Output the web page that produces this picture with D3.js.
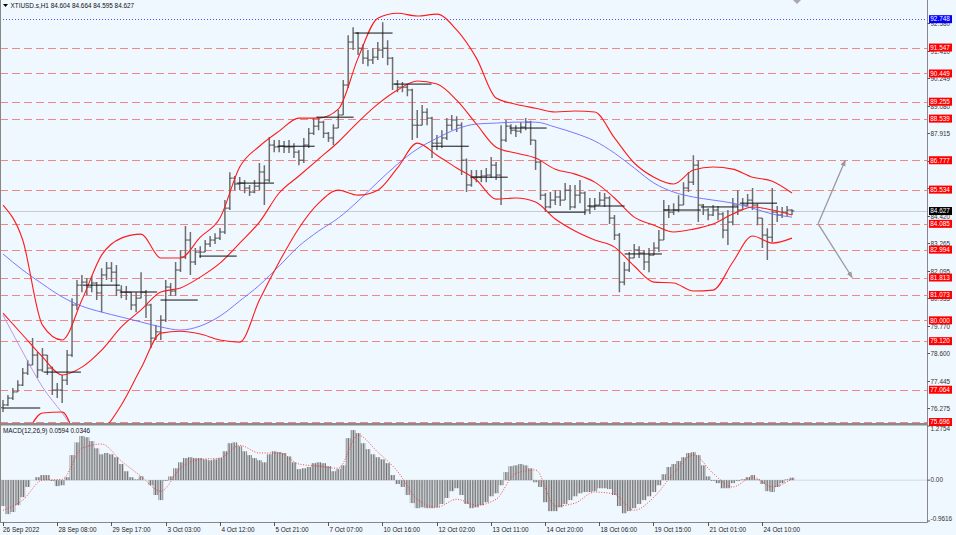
<!DOCTYPE html>
<html>
<head>
<meta charset="utf-8">
<script src="https://cdn.jsdelivr.net/npm/d3@7"></script>
<style>
  html, body { margin: 0; padding: 0; background: #f0f8ff; }
  svg { display: block; font-family: "Liberation Sans", Arial, sans-serif; }
</style>
</head>
<body>
<svg id="chart" width="956" height="535"></svg>
<script>
// price bars, one per ~3 hourly bars
var barHigh = [
  76.63, 76.84, 77.14, 77.47, 77.98, 78.32, 79.25, 78.66, 78.83, 78.53,
  78.05, 77.35, 77.69, 78.74, 80.94, 81.71, 81.92, 81.79, 81.88, 81.62,
  82.21, 82.47, 82.47, 82.34, 81.49, 81.45, 81.19, 81.19, 82.04, 81.28,
  80.70, 79.80, 80.22, 81.71, 81.58, 82.47, 82.98, 83.99, 83.74, 83.06,
  83.14, 83.40, 83.57, 83.69, 83.91, 85.09, 86.27, 86.11, 86.07, 85.94,
  85.73, 85.94, 86.66, 86.57, 87.76, 87.63, 87.63, 87.59, 87.63, 87.50,
  87.21, 87.72, 88.14, 88.56, 88.56, 88.45, 87.97, 88.30, 88.90, 90.17,
  92.07, 92.41, 92.20, 91.69, 91.44, 91.52, 91.78, 92.62, 91.86, 91.15,
  90.17, 90.09, 90.00, 89.80, 88.90, 89.11, 88.98, 88.62, 87.84, 88.05,
  88.56, 88.69, 88.64, 88.39, 86.85, 86.36, 86.36, 86.36, 86.45, 86.91,
  86.70, 88.26, 88.48, 88.30, 88.26, 88.39, 88.56, 88.45, 87.63, 86.78,
  85.39, 85.43, 85.51, 85.51, 85.81, 85.73, 85.73, 85.94, 85.45, 85.18,
  85.18, 85.43, 85.39, 85.25, 84.46, 83.70, 82.47, 82.89, 83.23, 83.14,
  82.98, 83.06, 83.31, 83.82, 85.09, 84.88, 84.96, 85.30, 85.85, 86.28,
  86.99, 86.78, 84.92, 84.75, 84.88, 84.84, 84.58, 84.67, 85.18, 85.51,
  85.18, 85.35, 85.60, 84.96, 84.33, 83.90, 85.60, 84.84, 84.80, 84.84,
  84.70
];
var barLow = [
  76.12, 76.37, 76.63, 76.97, 77.22, 77.69, 78.11, 77.56, 77.81, 77.69,
  76.84, 76.71, 76.50, 77.26, 78.45, 80.44, 81.19, 81.07, 81.19, 80.86,
  80.34, 81.71, 81.62, 81.03, 80.94, 80.86, 80.44, 80.34, 80.94, 80.10,
  78.83, 79.17, 79.17, 79.93, 81.03, 81.03, 82.05, 82.60, 81.92, 82.34,
  82.64, 82.89, 83.10, 83.23, 83.40, 83.65, 84.67, 85.51, 85.51, 85.38,
  85.26, 85.38, 85.51, 84.88, 85.85, 87.12, 87.12, 87.08, 87.08, 86.87,
  86.57, 86.66, 87.30, 87.84, 88.05, 87.72, 87.55, 87.42, 88.14, 88.69,
  89.83, 91.44, 91.23, 90.85, 90.76, 90.85, 91.02, 91.10, 90.80, 89.75,
  89.66, 89.66, 89.49, 87.63, 87.72, 88.26, 88.26, 86.87, 87.21, 87.30,
  87.63, 88.05, 87.97, 86.15, 85.43, 85.65, 85.85, 85.85, 85.85, 86.02,
  85.94, 84.88, 87.55, 87.88, 87.76, 87.92, 88.05, 87.42, 86.36, 85.09,
  84.59, 84.75, 84.88, 84.84, 85.09, 84.67, 84.75, 84.96, 84.46, 84.50,
  84.67, 84.88, 84.80, 84.08, 83.40, 81.19, 81.49, 82.05, 82.64, 82.64,
  82.13, 82.04, 82.76, 82.89, 83.40, 84.33, 84.46, 84.58, 84.88, 85.43,
  85.73, 84.16, 84.46, 84.24, 84.42, 84.24, 83.48, 83.19, 84.03, 84.46,
  84.67, 84.84, 84.67, 84.03, 83.06, 82.55, 83.31, 84.16, 84.33, 84.42,
  84.46
];
var barClose = [
  76.42, 76.71, 76.97, 77.26, 77.77, 78.11, 78.53, 77.90, 78.53, 77.98,
  77.05, 77.05, 77.47, 78.53, 80.65, 81.49, 81.62, 81.41, 81.58, 81.16,
  81.92, 82.21, 82.04, 81.28, 81.19, 81.19, 80.65, 80.94, 81.19, 80.65,
  79.25, 79.51, 80.01, 81.41, 81.24, 82.13, 82.68, 83.40, 82.47, 82.89,
  82.89, 83.23, 83.40, 83.48, 83.74, 84.75, 86.02, 85.77, 85.81, 85.60,
  85.43, 85.68, 86.28, 85.94, 87.42, 87.34, 87.38, 87.34, 87.34, 87.12,
  86.78, 87.42, 87.92, 88.22, 88.39, 87.92, 87.72, 88.14, 88.69, 89.96,
  91.78, 92.16, 91.52, 91.10, 91.02, 91.14, 91.44, 91.52, 91.10, 90.00,
  89.87, 89.87, 89.75, 88.26, 88.26, 88.81, 88.56, 87.50, 87.50, 87.72,
  88.26, 88.48, 88.26, 86.78, 85.73, 86.07, 86.07, 86.11, 86.15, 86.57,
  86.15, 87.63, 88.22, 88.05, 88.01, 88.18, 88.39, 87.63, 86.70, 85.30,
  84.80, 85.09, 85.22, 85.09, 85.51, 84.80, 85.30, 85.39, 84.67, 84.80,
  84.88, 85.09, 85.18, 84.33, 83.61, 81.62, 82.13, 82.64, 82.98, 82.85,
  82.47, 82.76, 83.06, 83.40, 84.67, 84.58, 84.67, 84.88, 85.60, 85.85,
  86.57, 84.88, 84.67, 84.46, 84.67, 84.50, 83.82, 84.16, 84.88, 84.67,
  84.88, 85.09, 84.88, 84.33, 83.61, 83.52, 84.58, 84.46, 84.58, 84.67,
  84.63
];
var firstOpen = 76.30;

// indicator lines, one value every 4 bars
var bandStep = 4;
var bbUpper = [
  84.88, 83.40, 79.80, 79.17, 80.86, 82.76, 83.48, 83.65, 82.64, 82.64,
  83.52, 84.33, 86.49, 87.37, 88.01, 88.56, 88.56, 88.94, 91.10, 92.79,
  93.00, 92.88, 92.96, 92.29, 91.10, 89.41, 89.15, 88.98, 88.82, 88.86,
  88.82, 87.72, 86.66, 86.06, 85.77, 86.36, 86.49, 86.40, 86.06, 85.89,
  85.39
];
var bbMiddle = [
  80.31, 79.38, 78.45, 77.69, 78.02, 78.74, 79.72, 80.44, 81.20, 81.37,
  81.83, 82.42, 83.27, 84.16, 85.39, 86.11, 86.83, 87.55, 88.39, 89.15,
  89.75, 90.13, 90.00, 89.32, 88.31, 87.33, 87.08, 86.87, 86.40, 86.19,
  85.85, 85.18, 84.37, 84.03, 83.74, 83.86, 84.08, 84.50, 84.80, 84.67,
  84.46
];
var bbLower = [
  73.66, 74.93, 76.08, 76.12, 74.72, 75.27, 76.42, 77.98, 79.46, 79.54,
  79.42, 79.17, 79.08, 80.86, 82.47, 83.90, 84.96, 85.51, 85.30, 85.51,
  86.45, 87.50, 86.99, 86.45, 85.94, 85.13, 85.18, 85.01, 84.29, 83.78,
  83.40, 83.10, 82.30, 81.62, 81.58, 81.24, 81.28, 82.47, 83.57, 83.27,
  83.48
];
var maSlow = [
  82.81, 82.13, 81.54, 80.99, 80.60, 80.35, 80.14, 79.93, 79.72, 79.59,
  79.76, 80.18, 80.82, 81.49, 82.30, 83.14, 83.78, 84.33, 85.05, 85.85,
  86.61, 87.25, 87.71, 88.10, 88.31, 88.35, 88.39, 88.39, 88.18, 87.92,
  87.59, 87.08, 86.45, 85.81, 85.43, 85.22, 85.09, 84.96, 84.75, 84.50,
  84.37
];
var maLong = [80.22, 78.66, 77.18, 76.08, 74.93];

// daily open lines (start in hourly bars, 22 bars long)
var dayStartHour = [0, 24, 47, 69, 93, 116, 138, 162, 185, 208, 231, 253, 276, 299, 322, 345, 367, 390, 412, 435];
var dayLevel = [76.29, 77.81, 81.49, 81.20, 80.86, 82.72, 85.81, 87.37, 88.60, 92.16, 90.00, 87.37, 86.06, 88.14, 84.58, 84.84, 82.81, 84.67, 84.80, 84.96];
var dayLength = 22;

// horizontal levels
var levelPrices = [91.547, 90.449, 89.255, 88.539, 86.777, 85.534, 84.085, 82.994, 81.813, 81.073, 80.000, 79.120, 77.064, 75.696];
var highLine = 92.748;
var bidPrice = 84.627;
var priceTicks = [76.275, 77.445, 78.600, 79.770, 80.935, 82.095, 83.265, 84.420, 85.590, 86.750, 87.915, 89.080, 90.249, 91.410, 92.580];

// scenario arrows: [startBar, startPrice, endBar, endPrice]
var arrows = [[165.3, 84.085, 170.8, 86.777], [165.3, 84.085, 172.2, 81.813]];

// MACD(12,26,9)
var macdHist = [
  -0.61, -0.80, -0.75, -0.59, -0.40, -0.16, 0.00, 0.07, 0.12, 0.12,
  -0.02, -0.14, -0.12, 0.07, 0.59, 0.89, 1.04, 1.01, 0.92, 0.75,
  0.61, 0.64, 0.61, 0.54, 0.38, 0.21, 0.07, 0.02, 0.09, 0.00,
  -0.12, -0.35, -0.47, -0.02, 0.09, 0.28, 0.42, 0.52, 0.54, 0.52,
  0.52, 0.49, 0.47, 0.49, 0.52, 0.68, 0.87, 0.89, 0.80, 0.68,
  0.59, 0.52, 0.47, 0.42, 0.61, 0.68, 0.66, 0.64, 0.56, 0.42,
  0.26, 0.28, 0.31, 0.40, 0.42, 0.40, 0.33, 0.21, 0.26, 0.35,
  0.99, 1.18, 1.11, 0.87, 0.73, 0.61, 0.54, 0.49, 0.40, 0.12,
  -0.09, -0.16, -0.35, -0.54, -0.66, -0.64, -0.66, -0.66, -0.64, -0.56,
  -0.42, -0.26, -0.19, -0.35, -0.56, -0.66, -0.64, -0.59, -0.52, -0.38,
  -0.31, -0.12, 0.19, 0.33, 0.35, 0.38, 0.35, 0.28, -0.05, -0.16,
  -0.52, -0.73, -0.73, -0.64, -0.56, -0.47, -0.38, -0.31, -0.28, -0.28,
  -0.26, -0.19, -0.19, -0.21, -0.35, -0.61, -0.78, -0.73, -0.66, -0.56,
  -0.47, -0.38, -0.28, -0.12, 0.14, 0.31, 0.38, 0.45, 0.54, 0.64,
  0.66, 0.59, 0.35, 0.09, -0.02, -0.07, -0.19, -0.19, -0.07, -0.02,
  0.02, 0.07, 0.12, 0.02, -0.09, -0.26, -0.28, -0.16, -0.07, 0.02,
  0.06
];
var macdSignal = [
  -0.71, -0.47, 0.00, 0.02, 0.75, 0.85, 0.45, 0.09, -0.26, 0.28,
  0.49, 0.52, 0.82, 0.64, 0.64, 0.38, 0.33, 0.28, 1.06, 0.66,
  0.21, -0.45, -0.64, -0.45, -0.59, -0.45, 0.16, 0.24, -0.61, -0.54,
  -0.28, -0.33, -0.71, -0.40, 0.16, 0.59, 0.16, -0.16, 0.07, -0.16,
  0.03
];
var macdTicks = [1.2754, 0.00, -0.9616];
var macdTickText = ["1.2754", "0.00", "-0.9616"];

// time axis
var timeLabels = ["26 Sep 2022", "28 Sep 08:00", "29 Sep 17:00", "3 Oct 03:00", "4 Oct 12:00",
  "5 Oct 21:00", "7 Oct 07:00", "10 Oct 16:00", "12 Oct 02:00", "13 Oct 11:00",
  "14 Oct 20:00", "18 Oct 06:00", "19 Oct 15:00", "21 Oct 01:00", "24 Oct 10:00"];
var labelEvery = 32;

var headerText = "XTIUSD.s,H1  84.604 84.664 84.595 84.627";
var macdText = "MACD(12,26,9) 0.0594 0.0346";

var FS = 6.4;
var axisX = 927.5;

var svg = d3.select("#chart");
var xg = d3.scaleLinear().domain([0, 160]).range([3, 792]);
var xt = d3.scaleLinear().domain([0, 467]).range([3, 794]);
var y = d3.scaleLinear().domain([75.613, 93.39]).range([424, 4]);
var ym = d3.scaleLinear().domain([-0.9616, 1.2754]).range([521, 426]);

svg.append("rect").attr("width", 956).attr("height", 535).attr("fill", "#f0f8ff");

var defs = svg.append("defs");
defs.append("clipPath").attr("id", "clipMain")
  .append("rect").attr("x", 1).attr("y", 0).attr("width", 926).attr("height", 423);
defs.append("clipPath").attr("id", "clipMacd")
  .append("rect").attr("x", 1).attr("y", 426).attr("width", 926).attr("height", 96);

    // hatch used for the MACD histogram
var hatch = defs.append("pattern").attr("id", "hatch")
  .attr("patternUnits", "userSpaceOnUse")
  .attr("width", 1.65).attr("height", 4);
hatch.append("rect").attr("width", 1).attr("height", 4).attr("fill", "#707070");

defs.append("marker").attr("id", "arrowHead")
  .attr("viewBox", "0 0 10 10").attr("refX", 9).attr("refY", 5)
  .attr("markerWidth", 5).attr("markerHeight", 5).attr("orient", "auto")
  .append("path").attr("d", "M0,1 L10,5 L0,9 z").attr("fill", "#9a9a9a");

var main = svg.append("g").attr("clip-path", "url(#clipMain)");

    // dashed levels
main.selectAll("line.level").data(levelPrices).enter().append("line")
  .attr("class", "level")
  .attr("x1", 0).attr("x2", axisX)
  .attr("y1", function(d) { return Math.round(y(d)) + 0.5; })
  .attr("y2", function(d) { return Math.round(y(d)) + 0.5; })
  .attr("stroke", "#f38585").attr("stroke-width", 1)
  .attr("stroke-dasharray", "8,4");

main.append("line")
  .attr("x1", 0).attr("x2", axisX)
  .attr("y1", Math.round(y(highLine)) + 0.5).attr("y2", Math.round(y(highLine)) + 0.5)
  .attr("stroke", "#5050ff").attr("stroke-dasharray", "1,2");

main.append("line")
  .attr("x1", 0).attr("x2", axisX)
  .attr("y1", Math.round(y(bidPrice)) + 0.5).attr("y2", Math.round(y(bidPrice)) + 0.5)
  .attr("stroke", "#c8ccd0");

    // price bars: range lines in grey, open/close ticks darker
var rangePath = "", tickPath = "";
barClose.forEach(function(c, i) {
  var x = xg(i);
  var o = i === 0 ? firstOpen : barClose[i - 1];
  rangePath += "M" + x + "," + y(barHigh[i]) + "V" + y(barLow[i]);
  tickPath += "M" + (x - 2.4) + "," + y(o) + "H" + x;
  tickPath += "M" + x + "," + y(c) + "H" + (x + 2.4);
});
main.append("path").attr("d", rangePath)
  .attr("fill", "none").attr("stroke", "#6e6e6e").attr("stroke-width", 1.5);
main.append("path").attr("d", tickPath)
  .attr("fill", "none").attr("stroke", "#4a4a4a").attr("stroke-width", 1);

    // indicator lines
var bandLine = d3.line()
  .x(function(d, i) { return xg(i * bandStep); })
  .y(function(d) { return y(d); })
  .curve(d3.curveMonotoneX);

main.append("path").attr("d", bandLine(maLong))
  .attr("fill", "none").attr("stroke", "#b98be0").attr("stroke-width", 0.9);
main.append("path").attr("d", bandLine(maSlow))
  .attr("fill", "none").attr("stroke", "#6a6aff").attr("stroke-width", 0.9);
[bbUpper, bbMiddle, bbLower].forEach(function(series) {
  main.append("path").attr("d", bandLine(series))
    .attr("fill", "none").attr("stroke", "#ff1a1a").attr("stroke-width", 1.1);
});

    // daily open segments
main.selectAll("line.day").data(dayLevel).enter().append("line")
  .attr("class", "day")
  .attr("x1", function(d, i) { return xt(dayStartHour[i]); })
  .attr("x2", function(d, i) { return xt(dayStartHour[i] + dayLength); })
  .attr("y1", function(d) { return y(d); })
  .attr("y2", function(d) { return y(d); })
  .attr("stroke", "#111").attr("stroke-width", 1);

    // scenario arrows
main.selectAll("line.arrow").data(arrows).enter().append("line")
  .attr("class", "arrow")
  .attr("x1", function(d) { return xg(d[0]); })
  .attr("y1", function(d) { return y(d[1]); })
  .attr("x2", function(d) { return xg(d[2]); })
  .attr("y2", function(d) { return y(d[3]); })
  .attr("stroke", "#9a9a9a").attr("stroke-width", 1.3)
  .attr("marker-end", "url(#arrowHead)");

    // chart shift marker
var shiftX = xg(160) + 5;
svg.append("path")
  .attr("d", "M" + (shiftX - 4) + ",0 H" + (shiftX + 4) + " L" + shiftX + ",4 z")
  .attr("fill", "#a8a8a8");

    // MACD panel
var macd = svg.append("g").attr("clip-path", "url(#clipMacd)");
macd.append("line").attr("x1", 0).attr("x2", axisX)
  .attr("y1", ym(0)).attr("y2", ym(0))
  .attr("stroke", "#c0c4c8").attr("stroke-width", 0.6);
macd.selectAll("rect.hist").data(macdHist).enter().append("rect")
  .attr("class", "hist")
  .attr("x", function(d, i) { return xg(i) - 2.47; })
  .attr("width", 4.94)
  .attr("y", function(d) { return Math.min(ym(d), ym(0)); })
  .attr("height", function(d) { return Math.abs(ym(d) - ym(0)); })
  .attr("fill", "url(#hatch)");
macd.append("path")
  .attr("d", d3.line()
    .x(function(d, i) { return xg(i * bandStep); })
    .y(function(d) { return ym(d); })
    .curve(d3.curveMonotoneX)(macdSignal))
  .attr("fill", "none").attr("stroke", "#ff3030").attr("stroke-width", 0.9)
  .attr("stroke-dasharray", "1,1.6");

    // frame
svg.append("line").attr("x1", 0.5).attr("x2", 0.5).attr("y1", 0).attr("y2", 522)
  .attr("stroke", "#888");
svg.append("line").attr("x1", axisX).attr("x2", axisX).attr("y1", 0).attr("y2", 522.5)
  .attr("stroke", "#888");
svg.append("rect").attr("x", 0).attr("y", 423).attr("width", axisX).attr("height", 2.5)
  .attr("fill", "#8a8a8a");
svg.append("line").attr("x1", 0).attr("x2", axisX).attr("y1", 522.5).attr("y2", 522.5)
  .attr("stroke", "#888");

    // header texts
svg.append("path").attr("d", "M3,4 H8 L5.5,7 z").attr("fill", "#000");
svg.append("text").attr("x", 10.5).attr("y", 8.3)
  .attr("font-size", FS).attr("fill", "#111").text(headerText);
svg.append("text").attr("x", 3).attr("y", 433)
  .attr("font-size", FS).attr("fill", "#111").text(macdText);

    // price axis (grid labels partly hidden under the level badges, as in the terminal)
var axisG = svg.append("g");
priceTicks.forEach(function(p) {
  var yy = Math.round(y(p)) + 0.5;
  axisG.append("line").attr("x1", axisX).attr("x2", axisX + 2.5)
    .attr("y1", yy).attr("y2", yy).attr("stroke", "#555");
  axisG.append("text").attr("x", 930.5).attr("y", yy + 2.3)
    .attr("font-size", FS).attr("fill", "#333").text(p.toFixed(3));
});

function priceBadge(p, bg) {
  var yy = y(p);
  axisG.append("rect").attr("x", 929).attr("y", yy - 4)
    .attr("width", 23).attr("height", 8).attr("fill", bg);
  axisG.append("text").attr("x", 930.3).attr("y", yy + 2.3)
    .attr("font-size", FS).attr("fill", "#fff").text(p.toFixed(3));
}
levelPrices.forEach(function(p) { priceBadge(p, "#ff0000"); });
priceBadge(highLine, "#0000ff");
priceBadge(bidPrice, "#000000");

macdTicks.forEach(function(v, i) {
  var yy = ym(v);
  var ty = i === 0 ? yy + 4.5 : (i === 2 ? yy - 0.5 : yy + 2.3);
  axisG.append("line").attr("x1", axisX).attr("x2", axisX + 2.5)
    .attr("y1", yy).attr("y2", yy).attr("stroke", "#555");
  axisG.append("text").attr("x", 930.5).attr("y", ty)
    .attr("font-size", FS).attr("fill", "#333").text(macdTickText[i]);
});

    // time axis
var timeG = svg.append("g");
timeLabels.forEach(function(t, i) {
  var xx = Math.round(xt(i * labelEvery)) + 0.5;
  timeG.append("line").attr("x1", xx).attr("x2", xx).attr("y1", 522).attr("y2", 526)
    .attr("stroke", "#555");
  timeG.append("text").attr("x", i === 0 ? 3 : xx + 1).attr("y", 531.5)
    .attr("font-size", FS).attr("fill", "#222").text(t);
});
</script>
</body>
</html>
